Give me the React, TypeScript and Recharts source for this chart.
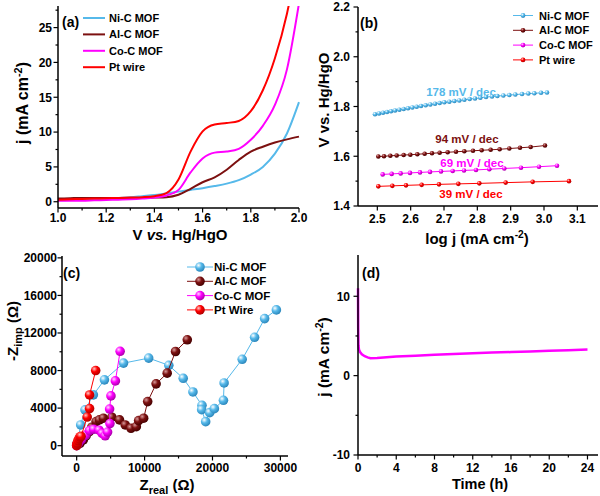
import React from 'react';
import { LineChart, Line, ScatterChart, Scatter, XAxis, YAxis, Customized } from 'recharts';

const FONT = 'Arial, "Liberation Sans", Helvetica, sans-serif';

const names = ['Ni-C MOF', 'Al-C MOF', 'Co-C MOF', 'Pt wire'];
const namesEis = ['Ni-C MOF', 'Al-C MOF', 'Co-C MOF', 'Pt Wire'];
const colors = ['#56b9ea', '#7c1010', '#ff00ff', '#ff0000'];
const keys = ['ni', 'al', 'co', 'pt'];

// (a) LSV curves
const lsvV = [1.0, 1.05, 1.1, 1.15, 1.2, 1.25, 1.3, 1.35, 1.4, 1.45, 1.5, 1.55, 1.6, 1.65, 1.7, 1.75, 1.8, 1.85, 1.9, 1.95, 2.0];
const lsvNi = [0.2, 0.25, 0.3, 0.35, 0.45, 0.55, 0.65, 0.8, 0.95, 1.2, 1.45, 1.7, 1.95, 2.25, 2.6, 3.1, 3.9, 5.0, 6.9, 9.8, 14.3];
const lsvAl = [0.45, 0.5, 0.55, 0.55, 0.55, 0.55, 0.55, 0.55, 0.6, 0.65, 1.0, 1.85, 2.8, 3.5, 4.6, 6.0, 7.2, 7.9, 8.5, 8.95, 9.35];
const lsvCo = [0.15, 0.15, 0.15, 0.2, 0.25, 0.3, 0.35, 0.45, 0.6, 0.9, 1.7, 4.2, 6.2, 7.05, 7.2, 7.6, 8.9, 10.9, 13.9, 19.0, 28.5];
const lsvPt = [0.3, 0.35, 0.4, 0.45, 0.5, 0.55, 0.6, 0.65, 0.8, 1.25, 3.2, 7.2, 10.1, 11.1, 11.3, 11.6, 13.0, 16.0, 20.6, 27.0, 36];
const aXMajor = [1.0, 1.2, 1.4, 1.6, 1.8, 2.0];
const aXMinor = [1.1, 1.3, 1.5, 1.7, 1.9];
const aYMajor = [0, 5, 10, 15, 20, 25];
const aYMinor = [2.5, 7.5, 12.5, 17.5, 22.5, 27.5];

// (b) Tafel
const tafNiX = [2.493, 2.505, 2.517, 2.529, 2.541, 2.553, 2.566, 2.579, 2.592, 2.605, 2.618, 2.631, 2.645, 2.659, 2.673, 2.687, 2.701, 2.716, 2.731, 2.746, 2.761, 2.777, 2.793, 2.809, 2.826, 2.844, 2.86, 2.878, 2.896, 2.914, 2.934, 2.953, 2.971, 2.991, 3.009];
const tafNiY = [1.769, 1.772, 1.775, 1.778, 1.781, 1.784, 1.787, 1.79, 1.793, 1.796, 1.799, 1.802, 1.805, 1.808, 1.811, 1.814, 1.817, 1.819, 1.822, 1.824, 1.827, 1.83, 1.832, 1.835, 1.838, 1.84, 1.842, 1.844, 1.846, 1.848, 1.85, 1.852, 1.853, 1.855, 1.856];
const tafAlX = [2.503, 2.52, 2.539, 2.558, 2.579, 2.599, 2.62, 2.642, 2.664, 2.687, 2.711, 2.736, 2.761, 2.787, 2.813, 2.84, 2.867, 2.896, 2.928, 2.96, 3.003];
const tafAlY = [1.599, 1.6, 1.602, 1.603, 1.605, 1.606, 1.608, 1.61, 1.612, 1.614, 1.616, 1.618, 1.62, 1.622, 1.624, 1.626, 1.628, 1.631, 1.634, 1.637, 1.643];
const tafCoX = [2.516, 2.543, 2.57, 2.598, 2.628, 2.658, 2.691, 2.726, 2.76, 2.796, 2.836, 2.881, 2.931, 2.985, 3.039];
const tafCoY = [1.527, 1.529, 1.531, 1.533, 1.535, 1.537, 1.539, 1.541, 1.543, 1.545, 1.548, 1.551, 1.554, 1.558, 1.562];
const tafPtX = [2.503, 2.545, 2.586, 2.633, 2.685, 2.743, 2.806, 2.885, 2.966, 3.075];
const tafPtY = [1.479, 1.481, 1.483, 1.485, 1.487, 1.489, 1.491, 1.494, 1.497, 1.5];
const tafSlopes = ['178 mV / dec', '94 mV / dec', '69 mV / dec', '39 mV / dec'];
const bXMajor = [2.5, 2.6, 2.7, 2.8, 2.9, 3.0, 3.1];
const bYMajor = [1.4, 1.6, 1.8, 2.0, 2.2];
const bYMinor = [1.5, 1.7, 1.9, 2.1];

// (c) Nyquist
const nyqNiRe = [100, 592, 1229, 2458, 4088, 6901, 10604, 13568, 15690, 17121, 18453, 18404, 18996, 19588, 20279, 21611, 21710, 24374, 26200, 27680, 29407];
const nyqNiIm = [300, 2209, 3809, 5410, 7010, 8792, 9325, 8560, 7175, 5719, 4298, 3836, 2557, 3516, 3943, 4831, 6678, 9200, 11544, 13533, 14457];
const nyqAlRe = [0, 489, 977, 1377, 1866, 2221, 2858, 3347, 3940, 5184, 6309, 7153, 7997, 8782, 9123, 9863, 10456, 11700, 13329, 14558, 16291];
const nyqAlIm = [75, 256, 608, 1035, 1494, 1963, 2561, 2742, 2923, 3030, 2742, 2209, 1856, 2027, 2668, 2923, 4695, 6583, 7725, 10030, 11278];
const nyqCoRe = [0, 300, 700, 1300, 1900, 2500, 3300, 3750, 4200, 4550, 4900, 4850, 5050, 5700, 6400];
const nyqCoIm = [0, 300, 650, 1100, 1600, 1750, 1650, 1300, 1050, 1450, 2350, 3900, 5300, 6900, 10050];
const nyqPtRe = [0, 50, 100, 200, 350, 500, 650, 1550, 1900, 1900, 2800];
const nyqPtIm = [0, 150, 300, 550, 750, 950, 1000, 3050, 3950, 5400, 8000];
const cXMajor = [0, 10000, 20000, 30000];
const cXMinor = [5000, 15000, 25000];
const cYMajor = [0, 4000, 8000, 12000, 16000, 20000];
const cYMinor = [2000, 6000, 10000, 14000, 18000];

// (d) stability
const stabT = [0, 0.02, 0.05, 0.1, 0.2, 0.4, 0.7, 1.0, 1.3, 2, 3, 4, 6, 8, 10, 12, 14, 16, 18, 20, 22, 24];
const stabJ = [11, 6.0, 3.8, 3.3, 3.0, 2.7, 2.45, 2.3, 2.2, 2.22, 2.32, 2.4, 2.52, 2.63, 2.73, 2.82, 2.9, 2.97, 3.05, 3.13, 3.2, 3.28];
const dXMajor = [0, 4, 8, 12, 16, 20, 24];
const dXMinor = [2, 6, 10, 14, 18, 22];
const dYMajor = [-10, 0, 10];
const dYMinor = [-5, 5];

const lsvData = lsvV.map((v, i) => ({ v, ni: lsvNi[i], al: lsvAl[i], co: lsvCo[i], pt: lsvPt[i] }));
const pts = (xs: number[], ys: number[]) => xs.map((x, i) => ({ x, y: ys[i] }));
const tafel = [pts(tafNiX, tafNiY), pts(tafAlX, tafAlY), pts(tafCoX, tafCoY), pts(tafPtX, tafPtY)];
const nyq = [pts(nyqNiRe, nyqNiIm), pts(nyqAlRe, nyqAlIm), pts(nyqCoRe, nyqCoIm), pts(nyqPtRe, nyqPtIm)];
const stabData = stabT.map((t, i) => ({ t, j: stabJ[i] }));

const all = (a: number[], b: number[]) => [...a, ...b].sort((p, q) => p - q);
const isIn = (arr: number[], v: number) => arr.some((m) => Math.abs(m - v) < 1e-6);

const Txt = ({ x, y, size = 12, anchor = 'start', fill = '#000', rot = false, children }: any) => (
  <text
    x={x}
    y={y}
    fontSize={size}
    fontWeight="bold"
    fontFamily={FONT}
    fill={fill}
    textAnchor={anchor}
    transform={rot ? `rotate(-90 ${x} ${y})` : undefined}
  >
    {children}
  </text>
);

function bottomTick(majors: number[], fmt: (v: number) => string, gap: number) {
  return (props: any) => {
    const { x, y, payload } = props;
    const major = isIn(majors, payload.value);
    return (
      <g>
        <line x1={x} x2={x} y1={y} y2={y + (major ? 4.5 : 2.5)} stroke="#000" strokeWidth={1.2} />
        {major && <Txt x={x} y={y + gap} anchor="middle">{fmt(payload.value)}</Txt>}
      </g>
    );
  };
}

function leftTick(majors: number[], fmt: (v: number) => string, gap: number) {
  return (props: any) => {
    const { x, y, payload } = props;
    const major = isIn(majors, payload.value);
    return (
      <g>
        <line x1={x - (major ? 4.5 : 2.5)} x2={x} y1={y} y2={y} stroke="#000" strokeWidth={1.2} />
        {major && <Txt x={x - gap} y={y + 4.3} anchor="end">{fmt(payload.value)}</Txt>}
      </g>
    );
  };
}

const axisLine = { stroke: '#000', strokeWidth: 1.5 };

function Frame() {
  return [
    <XAxis key="ft" xAxisId="top" orientation="top" type="number" domain={[0, 1]} height={0} tick={false} tickLine={false} axisLine={axisLine} />,
    <YAxis key="fr" yAxisId="right" orientation="right" type="number" domain={[0, 1]} width={0} tick={false} tickLine={false} axisLine={axisLine} />,
  ];
}

const sphere = [
  ['#ffffff', '#56b9ea', '#2a86bb'],
  ['#d89a9a', '#7c1010', '#450000'],
  ['#ffd6ff', '#ff00ff', '#a800a8'],
  ['#ffc8c8', '#ff0000', '#b00000'],
];

const Gradients = ({ prefix }: { prefix: string }) => (
  <defs>
    {sphere.map((s, i) => (
      <radialGradient key={i} id={`${prefix}${i}`} cx="0.35" cy="0.32" r="0.7">
        <stop offset="0" stopColor={s[0]} />
        <stop offset="0.45" stopColor={s[1]} />
        <stop offset="1" stopColor={s[2]} />
      </radialGradient>
    ))}
  </defs>
);

const Sup = ({ size }: { size: number }) => (
  <>
    <tspan dy={-size * 0.4} fontSize={size * 0.68}>-2</tspan>
    <tspan dy={size * 0.4}>)</tspan>
  </>
);

function OverlayA() {
  return (
    <g>
      <Txt x={62} y={27} size={14}>(a)</Txt>
      {names.map((n, i) => (
        <g key={n}>
          <line x1={83} x2={105} y1={18 + i * 16.4} y2={18 + i * 16.4} stroke={colors[i]} strokeWidth={2} />
          <Txt x={109} y={22 + i * 16.4} size={11}>{n}</Txt>
        </g>
      ))}
      <Txt x={180} y={240} size={15} anchor="middle">
        V <tspan fontStyle="italic">vs.</tspan> Hg/HgO
      </Txt>
      <Txt x={28} y={103} size={16} anchor="middle" rot>
        j (mA cm<Sup size={16} />
      </Txt>
    </g>
  );
}

function OverlayB() {
  const slopePos = [
    [161, 96],
    [167, 143],
    [172, 167],
    [171, 198],
  ];
  return (
    <g>
      <Txt x={60} y={28} size={14}>(b)</Txt>
      {names.map((n, i) => (
        <g key={n}>
          <line x1={213} x2={233} y1={15.5 + i * 14.8} y2={15.5 + i * 14.8} stroke={colors[i]} strokeWidth={1} />
          <circle cx={223} cy={15.5 + i * 14.8} r={2.4} fill={`url(#gb${i})`} />
          <Txt x={239} y={19.5 + i * 14.8} size={11}>{n}</Txt>
        </g>
      ))}
      {tafSlopes.map((s, i) => (
        <Txt key={s} x={slopePos[i][0]} y={slopePos[i][1]} size={11.5} anchor="middle" fill={colors[i]}>{s}</Txt>
      ))}
      <Txt x={29} y={100} size={15} anchor="middle" rot>V vs. Hg/HgO</Txt>
      <Txt x={177} y={244} size={15} anchor="middle">
        log j (mA cm<Sup size={15} />
      </Txt>
    </g>
  );
}

function OverlayC() {
  return (
    <g>
      <Txt x={63} y={30} size={14}>(c)</Txt>
      {namesEis.map((n, i) => (
        <g key={n}>
          <line x1={187} x2={213} y1={19 + i * 14.3} y2={19 + i * 14.3} stroke={colors[i]} strokeWidth={1} />
          <circle cx={200} cy={19 + i * 14.3} r={4.8} fill={`url(#gc${i})`} />
          <Txt x={214} y={23 + i * 14.3} size={11.5}>{n}</Txt>
        </g>
      ))}
      <Txt x={18} y={83} size={15} anchor="middle" rot>
        -Z<tspan dy={4} fontSize={11}>imp</tspan>
        <tspan dy={-4}> (Ω)</tspan>
      </Txt>
      <Txt x={167} y={242} size={15} anchor="middle">
        Z<tspan dy={4} fontSize={11}>real</tspan>
        <tspan dy={-4}> (Ω)</tspan>
      </Txt>
    </g>
  );
}

function OverlayD() {
  return (
    <g>
      <Txt x={62} y={30} size={14}>(d)</Txt>
      <Txt x={29} y={109} size={15.5} anchor="middle" rot>
        j (mA cm<Sup size={15.5} />
      </Txt>
      <Txt x={180} y={241} size={14.5} anchor="middle">Time (h)</Txt>
    </g>
  );
}

function PanelA() {
  return (
    <LineChart width={312} height={248} data={lsvData} margin={{ top: 6, right: 13, bottom: 0, left: 0 }}>
      <XAxis
        dataKey="v"
        type="number"
        domain={[1.0, 2.0]}
        ticks={all(aXMajor, aXMinor)}
        interval={0}
        height={40}
        tickSize={0}
        tickMargin={0}
        tickLine={false}
        axisLine={axisLine}
        tick={bottomTick(aXMajor, (v) => v.toFixed(1), 14)}
      />
      <YAxis
        type="number"
        domain={[-0.9, 28.1]}
        allowDataOverflow
        ticks={all(aYMajor, aYMinor)}
        interval={0}
        width={58}
        tickSize={0}
        tickMargin={0}
        tickLine={false}
        axisLine={axisLine}
        tick={leftTick(aYMajor, (v) => String(v), 6)}
      />
      {Frame()}
      {keys.map((k, i) => (
        <Line key={k} type="monotone" dataKey={k} stroke={colors[i]} strokeWidth={2} dot={false} activeDot={false} isAnimationActive={false} />
      ))}
      <Customized component={OverlayA} />
    </LineChart>
  );
}

function PanelB() {
  return (
    <ScatterChart width={300} height={248} margin={{ top: 7, right: 2, bottom: 0, left: 0 }}>
      <Gradients prefix="gb" />
      <XAxis
        dataKey="x"
        type="number"
        domain={[2.442, 3.162]}
        allowDataOverflow
        ticks={bXMajor}
        interval={0}
        height={42}
        tickSize={0}
        tickMargin={0}
        tickLine={false}
        axisLine={axisLine}
        tick={bottomTick(bXMajor, (v) => v.toFixed(1), 17)}
      />
      <YAxis
        dataKey="y"
        type="number"
        domain={[1.4, 2.2]}
        allowDataOverflow
        ticks={all(bYMajor, bYMinor)}
        interval={0}
        width={58}
        tickSize={0}
        tickMargin={0}
        tickLine={false}
        axisLine={axisLine}
        tick={leftTick(bYMajor, (v) => v.toFixed(1), 8)}
      />
      {Frame()}
      {tafel.map((d, i) => (
        <Scatter
          key={keys[i]}
          data={d}
          line={{ stroke: colors[i], strokeWidth: 1 }}
          isAnimationActive={false}
          shape={(p: any) => <circle cx={p.cx} cy={p.cy} r={2.3} fill={`url(#gb${i})`} />}
        />
      ))}
      <Customized component={OverlayB} />
    </ScatterChart>
  );
}

function PanelC() {
  return (
    <ScatterChart width={300} height={248} margin={{ top: 8, right: 12, bottom: 0, left: 0 }}>
      <Gradients prefix="gc" />
      <XAxis
        dataKey="x"
        type="number"
        domain={[-2160, 31120]}
        allowDataOverflow
        ticks={all(cXMajor, cXMinor)}
        interval={0}
        height={40}
        tickSize={0}
        tickMargin={0}
        tickLine={false}
        axisLine={axisLine}
        tick={bottomTick(cXMajor, (v) => String(v), 16)}
      />
      <YAxis
        dataKey="y"
        type="number"
        domain={[-1100, 20200]}
        allowDataOverflow
        ticks={all(cYMajor, cYMinor)}
        interval={0}
        width={62}
        tickSize={0}
        tickMargin={0}
        tickLine={false}
        axisLine={axisLine}
        tick={leftTick(cYMajor, (v) => String(v), 5)}
      />
      {Frame()}
      {nyq.map((d, i) => (
        <Scatter
          key={keys[i]}
          data={d}
          line={{ stroke: colors[i], strokeWidth: 1 }}
          isAnimationActive={false}
          shape={(p: any) => <circle cx={p.cx} cy={p.cy} r={4.8} fill={`url(#gc${i})`} />}
        />
      ))}
      <Customized component={OverlayC} />
    </ScatterChart>
  );
}

function PanelD() {
  return (
    <LineChart width={300} height={248} data={stabData} margin={{ top: 7, right: 2, bottom: 0, left: 0 }}>
      <XAxis
        dataKey="t"
        type="number"
        domain={[0, 25.1]}
        ticks={all(dXMajor, dXMinor)}
        interval={0}
        height={41}
        tickSize={0}
        tickMargin={0}
        tickLine={false}
        axisLine={axisLine}
        tick={bottomTick(dXMajor, (v) => String(v), 17)}
      />
      <YAxis
        type="number"
        domain={[-10, 15.2]}
        ticks={all(dYMajor, dYMinor)}
        interval={0}
        width={58}
        tickSize={0}
        tickMargin={0}
        tickLine={false}
        axisLine={axisLine}
        tick={leftTick(dYMajor, (v) => String(v), 8)}
      />
      {Frame()}
      <Line type="linear" dataKey="j" stroke="#ff00ff" strokeWidth={2.5} dot={false} activeDot={false} isAnimationActive={false} />
      <Customized component={OverlayD} />
    </LineChart>
  );
}

export default function App() {
  return (
    <div style={{ position: 'absolute', left: 0, top: 0, width: 600, height: 496, background: '#fff', overflow: 'hidden' }}>
      <div style={{ position: 'absolute', left: 0, top: 0 }}>
        <PanelA />
      </div>
      <div style={{ position: 'absolute', left: 300, top: 0 }}>
        <PanelB />
      </div>
      <div style={{ position: 'absolute', left: 0, top: 248 }}>
        <PanelC />
      </div>
      <div style={{ position: 'absolute', left: 300, top: 248 }}>
        <PanelD />
      </div>
    </div>
  );
}
